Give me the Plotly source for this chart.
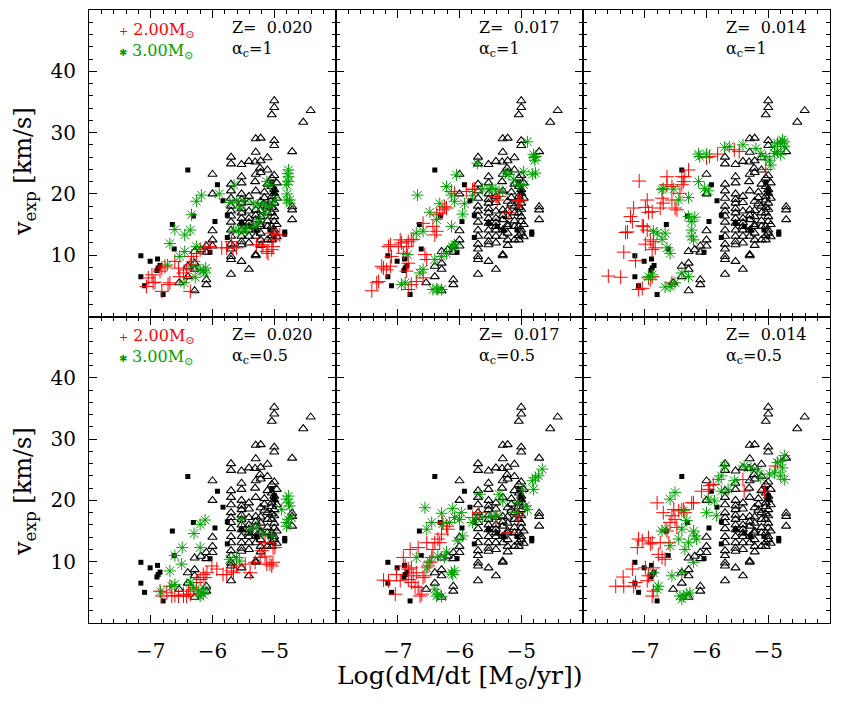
import plotly.graph_objects as go
from plotly.subplots import make_subplots

# ---------------- observed data (same in every panel) ----------------
obs_tri = [(-5.00,35.2),(-5.00,34.1),(-5.04,32.9),(-4.41,33.6),(-4.53,31.7),(-5.30,29.0),(-5.22,29.1),
 (-5.00,28.7),(-5.00,27.9),(-4.71,26.9),(-5.70,26.0),(-5.70,24.9),(-5.30,26.8),(-5.53,24.8),(-5.41,25.3),
 (-5.31,25.2),(-5.22,25.4),(-5.11,25.9),(-5.22,23.5),(-5.23,24.2),(-6.00,23.2),(-5.53,22.8),(-5.53,21.8),
 (-5.31,22.0),(-5.00,23.0),(-5.11,21.6),(-5.04,21.2),(-5.00,20.7),(-5.00,20.1),(-5.04,19.6),(-5.70,20.5),
 (-6.00,20.0),(-5.53,20.0),(-5.53,19.1),(-5.53,18.5),(-5.16,19.4),(-5.22,18.8),(-5.16,18.4),(-4.71,17.9),
 (-4.71,17.4),(-4.71,15.8),(-5.70,18.0),(-5.70,17.2),(-5.70,16.4),(-5.70,15.4),(-5.70,14.1),(-5.70,13.1),
 (-5.70,11.8),(-5.70,11.0),(-5.70,9.8),(-5.70,9.3),(-5.70,6.9),(-5.53,16.9),(-5.53,16.0),(-5.53,15.2),
 (-5.53,14.1),(-5.53,13.1),(-5.53,11.7),(-5.41,17.2),(-5.41,16.0),(-5.41,15.3),(-5.41,14.1),(-5.41,13.1),
 (-5.30,17.4),(-5.30,15.8),(-5.30,14.1),(-5.30,13.1),(-5.30,10.1),(-5.22,16.3),(-5.22,14.7),(-5.22,13.6),
 (-5.22,12.5),(-5.11,16.9),(-5.11,14.7),(-5.11,12.5),(-5.04,19.0),(-5.04,16.9),(-5.04,14.7),(-5.04,12.5),
 (-5.00,18.5),(-5.00,16.3),(-5.00,14.1),(-5.00,13.6),(-6.00,14.0),(-6.00,12.5),(-6.00,11.5),(-6.10,11.5),
 (-6.10,10.5),(-6.10,6.0),(-6.10,5.2),(-6.19,10.9),(-6.29,10.6),(-6.29,8.7),(-6.29,7.7),(-6.29,4.2),
 (-6.40,8.2),(-6.40,6.5),(-6.54,5.5),(-5.53,9.0),(-5.41,7.7),(-5.30,9.9),(-5.53,12.2),(-5.41,12.0),
 (-5.22,11.6),(-5.04,17.8),(-5.00,17.5),(-5.00,15.5),(-4.96,15.0),(-5.11,18.0),(-5.22,17.3),(-5.30,16.5),
 (-5.41,18.6),(-5.53,17.6),(-5.41,19.6),(-5.30,20.5),(-5.16,20.3),(-5.04,22.6),(-5.11,23.9),(-5.30,23.2),
 (-4.96,21.8),(-4.96,19.3),(-5.04,13.2),(-4.96,13.0),(-5.70,19.3),(-5.70,21.6),(-5.22,15.0),(-5.11,15.6),
 (-5.41,14.7)]

obs_sq = [(-6.40,23.9),(-5.92,21.5),(-5.83,18.9),(-5.76,16.5),(-6.31,16.4),(-5.96,15.5),(-6.65,15.0),
 (-6.62,11.0),(-5.76,12.9),(-7.16,9.9),(-7.01,9.0),(-6.89,9.4),(-6.85,8.3),(-6.88,7.9),(-6.90,7.5),
 (-7.16,6.5),(-7.10,5.0),(-6.80,3.6),(-5.00,20.8),(-5.00,20.2),(-4.83,13.8),(-4.83,13.4),(-5.04,21.9),
 (-5.39,14.7),(-5.29,14.1),(-5.07,14.1),(-6.04,10.5),(-5.53,15.2)]

# ---------------- models: 2 Msun (red +) and 3 Msun (green *) ----------------
m2_z020_a1 = [(-7.04,6.3),(-6.98,6.8),(-6.93,5.6),(-7.07,4.9),(-6.96,5.5),(-6.85,7.4),(-6.82,7.9),(-6.77,8.2),
 (-6.69,5.5),(-6.72,5.2),(-6.82,4.1),(-6.61,9.0),(-6.55,7.9),(-6.53,6.5),(-6.47,7.1),(-6.42,7.6),(-6.36,8.4),
 (-6.34,9.8),(-6.26,10.3),(-6.36,4.1),(-6.20,10.9),(-6.12,11.2),(-6.04,11.4),(-5.85,11.2),(-5.77,11.2),
 (-5.69,12.2),(-5.67,11.2),(-5.61,11.2),(-5.29,11.7),(-5.20,11.4),(-5.12,10.6),(-5.04,10.9),(-5.02,11.4),
 (-5.10,10.3),(-5.02,12.5),(-4.96,13.3),(-4.91,13.3),(-5.04,13.6),(-5.18,11.7),(-6.42,6.5),(-6.31,9.0)]
m3_z020_a1 = [(-6.18,19.8),(-6.26,18.8),(-6.34,16.6),(-5.89,20.0),(-5.65,21.4),(-6.61,14.2),(-6.45,13.3),
 (-6.36,14.1),(-6.69,11.9),(-6.73,8.4),(-6.53,9.8),(-6.45,10.6),(-6.26,11.4),(-6.28,6.4),(-6.46,5.5),
 (-6.20,7.6),(-6.15,7.5),(-6.12,7.1),(-6.11,7.9),(-6.31,8.2),(-5.72,18.6),(-5.61,18.8),(-5.50,18.8),
 (-5.34,18.5),(-5.26,18.2),(-5.15,18.2),(-5.07,17.9),(-4.99,19.0),(-5.66,14.1),(-5.58,14.1),(-5.50,13.9),
 (-5.45,14.3),(-5.34,14.7),(-5.29,15.2),(-5.23,15.8),(-5.15,16.9),(-5.07,21.5),(-5.12,22.0),(-4.77,23.9),
 (-4.77,22.8),(-4.77,22.0),(-4.80,21.5),(-4.75,19.0),(-4.80,19.0),(-4.75,18.5),(-5.56,17.7),(-4.78,23.3),
 (-4.79,20.0)]

m2_z017_a1 = [(-7.42,4.2),(-7.34,5.5),(-7.31,5.7),(-7.26,8.2),(-7.23,7.9),(-7.18,7.6),(-7.12,8.2),(-7.10,9.8),
 (-7.15,11.4),(-7.12,11.7),(-6.99,11.4),(-6.96,12.5),(-6.94,12.0),(-6.86,11.4),(-6.83,12.2),(-6.78,12.5),
 (-6.75,12.6),(-6.59,15.2),(-6.43,14.7),(-6.40,13.3),(-6.37,13.9),(-6.37,16.6),(-6.32,16.9),(-6.27,17.4),
 (-6.24,17.9),(-6.21,17.7),(-6.13,20.4),(-6.08,20.1),(-5.89,20.4),(-5.79,20.7),(-5.76,20.8),(-5.41,19.6),
 (-5.39,19.0),(-5.36,19.6),(-5.06,19.0),(-5.04,18.8),(-5.01,19.0),(-5.20,16.9),(-6.56,10.1),(-6.53,9.3),
 (-6.59,6.3),(-6.70,5.7),(-6.78,5.2),(-6.83,4.4),(-6.86,7.4),(-6.91,10.3),(-6.83,8.7)]
m3_z017_a1 = [(-6.68,19.8),(-6.48,17.0),(-6.37,15.8),(-6.32,18.4),(-6.21,21.2),(-6.13,19.8),(-6.05,23.1),
 (-6.08,18.8),(-5.92,18.4),(-5.95,16.7),(-6.13,14.7),(-6.59,13.9),(-6.70,13.6),(-6.84,10.1),(-6.64,7.1),
 (-6.59,7.7),(-6.88,5.5),(-6.94,5.2),(-6.43,4.4),(-6.37,4.5),(-6.35,4.4),(-6.29,4.4),(-6.40,9.3),(-6.29,9.8),
 (-6.11,11.4),(-6.08,11.7),(-6.21,10.3),(-5.71,25.0),(-5.79,19.7),(-5.63,20.8),(-5.52,20.8),(-5.47,20.9),
 (-5.41,20.7),(-5.30,20.4),(-5.25,23.4),(-5.20,23.2),(-5.12,22.3),(-5.04,21.5),(-4.96,21.5),(-4.90,28.5),
 (-4.80,26.4),(-4.77,26.1),(-4.78,25.5),(-4.77,23.4),(-4.96,23.6),(-4.79,25.9),(-4.82,23.2)]

m2_z014_a1 = [(-7.59,6.6),(-7.39,6.4),(-7.34,10.5),(-7.31,13.7),(-7.28,13.8),(-7.23,16.3),(-7.20,15.5),
 (-7.18,17.7),(-7.15,9.1),(-7.09,22.1),(-7.04,14.8),(-7.02,14.7),(-6.99,11.8),(-6.96,19.0),(-6.99,17.8),
 (-6.94,17.0),(-6.96,14.1),(-6.91,12.5),(-6.88,17.1),(-6.88,10.9),(-6.86,12.2),(-6.83,11.2),(-6.75,17.7),
 (-6.72,19.3),(-6.70,18.5),(-6.64,21.5),(-6.64,22.8),(-6.56,21.2),(-6.56,19.0),(-6.51,17.7),(-6.48,17.4),
 (-6.43,20.1),(-6.40,21.5),(-6.40,22.8),(-6.37,22.0),(-6.35,22.8),(-6.29,23.9),(-6.00,25.9),(-5.95,26.1),
 (-5.82,26.5),(-5.55,27.2),(-5.47,26.9),(-5.04,24.0),(-6.94,6.3),(-6.91,6.0),(-7.10,4.4),(-7.04,4.6),
 (-6.88,6.5),(-6.56,5.5)]
m3_z014_a1 = [(-6.72,20.7),(-6.70,20.9),(-6.53,20.8),(-6.45,19.0),(-6.29,19.4),(-6.13,22.0),(-6.03,20.9),
 (-5.97,20.5),(-6.13,26.5),(-6.11,26.1),(-6.00,26.5),(-5.71,27.6),(-5.63,27.7),(-5.41,28.0),(-5.20,27.4),
 (-5.12,26.6),(-5.04,26.1),(-4.98,25.5),(-4.96,24.7),(-4.90,27.7),(-4.85,28.3),(-4.80,28.3),(-4.77,28.8),
 (-4.74,28.5),(-4.90,26.6),(-4.85,26.9),(-4.80,26.4),(-4.74,27.7),(-6.86,13.9),(-6.80,13.6),(-6.72,12.6),
 (-6.67,13.6),(-6.64,11.2),(-6.59,10.3),(-6.29,16.3),(-6.24,15.5),(-6.19,16.2),(-6.24,14.1),(-6.24,13.1),
 (-6.21,12.5),(-6.40,7.1),(-6.29,6.5),(-6.67,4.8),(-6.59,4.9),(-6.51,5.5),(-6.94,6.5),(-6.88,6.8)]

m2_z020_a05 = [(-6.85,5.2),(-6.82,4.4),(-6.74,4.9),(-6.69,6.0),(-6.66,4.4),(-6.61,4.5),(-6.55,4.4),(-6.47,4.4),
 (-6.42,4.4),(-6.36,4.7),(-6.31,5.5),(-6.26,6.6),(-6.20,7.1),(-6.15,7.9),(-6.12,7.4),(-6.09,8.2),(-6.01,9.3),
 (-5.93,8.8),(-5.83,7.9),(-5.77,7.9),(-5.69,8.5),(-5.66,8.2),(-5.61,9.3),(-5.47,9.6),(-5.39,8.2),(-5.31,9.9),
 (-5.23,10.7),(-5.20,11.8),(-5.15,10.9),(-5.12,9.6),(-5.07,9.6),(-5.04,9.3),(-5.02,9.9),(-5.02,12.3),
 (-4.99,12.3),(-5.15,13.1),(-6.39,5.2),(-6.47,4.7)]
m3_z020_a05 = [(-6.12,16.8),(-6.20,16.1),(-6.30,14.6),(-6.49,12.3),(-6.61,11.0),(-6.69,8.5),(-6.50,9.6),
 (-6.20,12.3),(-6.84,5.1),(-6.66,6.0),(-6.61,6.3),(-6.36,6.6),(-6.31,5.8),(-6.23,5.2),(-6.18,4.9),(-6.15,4.7),
 (-6.12,5.5),(-6.20,4.4),(-5.72,10.4),(-5.61,10.7),(-5.56,10.1),(-5.53,16.9),(-5.39,15.3),(-5.29,15.6),
 (-5.18,14.6),(-5.04,14.2),(-4.88,18.5),(-4.80,20.2),(-4.77,19.6),(-4.75,19.1),(-4.80,16.4),(-4.77,16.9),
 (-4.72,17.2),(-4.80,15.8),(-4.77,20.7)]

m2_z017_a05 = [(-7.23,7.0),(-7.15,6.9),(-7.04,4.7),(-6.96,6.9),(-7.02,7.9),(-6.91,10.7),(-6.88,9.3),(-6.83,8.8),
 (-6.80,12.0),(-6.78,9.0),(-6.75,7.7),(-6.78,6.6),(-6.72,6.0),(-6.70,8.2),(-6.67,12.3),(-6.64,4.4),(-6.61,4.7),
 (-6.59,7.4),(-6.56,7.7),(-6.53,13.1),(-6.51,9.3),(-6.48,9.9),(-6.45,10.7),(-6.43,12.0),(-6.40,13.1),
 (-6.35,13.7),(-6.32,13.1),(-6.29,14.5),(-6.27,16.4),(-6.21,15.8),(-6.19,15.3),(-5.79,17.2),(-5.68,18.0),
 (-5.41,17.2),(-5.06,18.0),(-5.04,17.5),(-5.22,14.7),(-6.83,7.1),(-6.67,5.8)]
m3_z017_a05 = [(-6.56,18.8),(-6.53,15.3),(-6.45,16.4),(-6.29,17.9),(-6.27,16.2),(-6.16,16.4),(-6.11,18.7),
 (-6.08,17.2),(-6.00,16.9),(-5.97,18.0),(-5.95,14.2),(-6.03,13.4),(-6.21,11.6),(-6.24,10.7),(-6.35,10.9),
 (-6.48,10.1),(-6.53,9.0),(-6.70,10.7),(-6.37,4.4),(-6.35,4.7),(-6.29,4.3),(-6.40,5.5),(-6.13,8.2),(-6.11,7.9),
 (-6.08,8.5),(-5.79,16.4),(-5.73,17.2),(-5.63,17.2),(-5.49,17.4),(-5.39,17.5),(-5.67,21.0),(-5.36,21.0),
 (-5.30,19.9),(-4.98,21.8),(-4.93,19.1),(-4.90,18.5),(-4.82,23.2),(-4.77,23.7),(-4.72,24.0),(-4.66,25.1),
 (-4.80,21.8),(-5.09,18.0),(-5.06,19.6)]

m2_z014_a05 = [(-7.47,6.0),(-7.35,7.5),(-7.34,6.0),(-7.20,8.8),(-7.18,6.0),(-7.15,6.6),(-7.12,12.3),(-7.10,13.7),
 (-7.04,13.4),(-6.99,9.0),(-6.96,6.9),(-6.94,13.9),(-6.91,12.9),(-6.88,13.1),(-6.86,5.2),(-6.88,4.4),
 (-6.80,19.6),(-6.78,11.2),(-6.75,13.1),(-6.72,10.7),(-6.70,18.0),(-6.67,10.4),(-6.64,15.0),(-6.59,16.4),
 (-6.56,17.5),(-6.53,18.5),(-6.51,16.9),(-6.48,15.6),(-6.45,18.3),(-6.40,18.5),(-6.37,18.5),(-6.35,18.0),
 (-6.24,19.6),(-6.21,19.6),(-6.08,21.5),(-5.97,21.8),(-5.95,22.4),(-5.89,22.6),(-5.41,23.4),(-5.39,21.5),
 (-5.06,21.5),(-4.88,25.6),(-6.86,9.0),(-6.61,13.1),(-6.94,7.7)]
m3_z014_a05 = [(-6.80,5.5),(-6.86,8.2),(-6.78,6.0),(-6.72,15.0),(-6.67,15.3),(-6.59,12.6),(-6.56,7.7),
 (-6.45,13.7),(-6.40,15.3),(-6.35,12.0),(-6.29,13.1),(-6.21,15.0),(-6.19,14.2),(-6.16,13.7),(-6.21,9.9),
 (-6.40,8.2),(-6.43,4.4),(-6.37,4.4),(-6.32,4.7),(-6.27,4.9),(-6.40,3.9),(-6.59,20.2),(-6.51,21.3),
 (-6.37,18.3),(-6.32,16.7),(-6.00,18.0),(-5.97,20.2),(-5.87,19.9),(-5.84,17.5),(-5.76,21.5),(-5.65,21.8),
 (-5.55,23.2),(-5.81,23.4),(-5.76,24.0),(-5.71,25.6),(-5.39,25.6),(-5.28,25.3),(-5.17,24.8),(-5.12,23.7),
 (-4.98,24.3),(-4.85,26.2),(-4.80,26.4),(-4.74,27.3),(-4.77,25.3),(-4.80,24.0),(-4.74,23.4),(-4.90,24.5)]

metallicity = ["0.020", "0.017", "0.014"]
alpha_c = ["1", "0.5"]
x_ticks = [-7, -6, -5]
y_ticks = [10, 20, 30, 40]
mass_labels = ["2.00", "3.00"]

panels = [
    (1, 1, m2_z020_a1, m3_z020_a1), (1, 2, m2_z017_a1, m3_z017_a1), (1, 3, m2_z014_a1, m3_z014_a1),
    (2, 1, m2_z020_a05, m3_z020_a05), (2, 2, m2_z017_a05, m3_z017_a05), (2, 3, m2_z014_a05, m3_z014_a05),
]

RED = "rgb(255,0,0)"
GREEN = "rgb(0,160,0)"
FONT = "DejaVu Serif"

fig = make_subplots(rows=2, cols=3, horizontal_spacing=0, vertical_spacing=0)

def xs(pts):
    return [p[0] for p in pts]

def ys(pts):
    return [p[1] for p in pts]

for r, c, m2, m3 in panels:
    fig.add_trace(go.Scatter(x=xs(obs_tri), y=ys(obs_tri), mode="markers", showlegend=False,
                             marker=dict(symbol="triangle-up-open", size=8, color="black",
                                         line=dict(color="black", width=1.1))), row=r, col=c)
    fig.add_trace(go.Scatter(x=xs(obs_sq), y=ys(obs_sq), mode="markers", showlegend=False,
                             marker=dict(symbol="square", size=5, color="black", line=dict(width=0))),
                  row=r, col=c)
    fig.add_trace(go.Scatter(x=xs(m2), y=ys(m2), mode="markers", showlegend=False,
                             marker=dict(symbol="cross-thin", size=10, color=RED,
                                         line=dict(color=RED, width=1))), row=r, col=c)
    fig.add_trace(go.Scatter(x=xs(m3), y=ys(m3), mode="markers", showlegend=False,
                             marker=dict(symbol="asterisk", size=10, color=GREEN,
                                         line=dict(color=GREEN, width=1))), row=r, col=c)

axis_common = dict(showline=True, linecolor="black", linewidth=1, mirror="ticks", showgrid=False,
                   zeroline=False, ticks="inside", ticklen=8, tickwidth=1, tickcolor="black",
                   tickfont=dict(family=FONT, size=20, color="black"))
for i in range(1, 7):
    row = 1 if i <= 3 else 2
    col = (i - 1) % 3 + 1
    fig.update_xaxes(range=[-8, -4], tickvals=x_ticks, ticktext=["\u2212" + str(abs(v)) for v in x_ticks],
                     showticklabels=(row == 2), ticklabelstandoff=10,
                     minor=dict(ticks="inside", ticklen=4, dtick=0.2, tick0=-8, tickcolor="black"),
                     row=row, col=col, **axis_common)
    fig.update_yaxes(range=[0, 50], tickvals=y_ticks, showticklabels=(col == 1), ticklabelstandoff=8,
                     minor=dict(ticks="inside", ticklen=4, dtick=2, tick0=0, tickcolor="black"),
                     row=row, col=col, **axis_common)

# panel annotations (one text block per panel, plus the mass key in the left column)
for r in (1, 2):
    for c in (1, 2, 3):
        idx = (r - 1) * 3 + c
        xd = "x domain" if idx == 1 else f"x{idx} domain"
        yd = "y domain" if idx == 1 else f"y{idx} domain"
        fig.add_annotation(xref=xd, yref=yd, x=0.57, y=0.98, xanchor="left", yanchor="top", align="left",
                           text="Z=\u00a0\u00a0" + metallicity[c - 1] + "<br>\u03b1<sub>c</sub>=" + alpha_c[r - 1],
                           showarrow=False, font=dict(family=FONT, size=16, color="black"))
        if c == 1:
            fig.add_annotation(
                xref=xd, yref=yd, x=0.115, y=0.975, xanchor="left", yanchor="top", align="left",
                text=(f"<span style='color:{RED}'><span style='font-size:11px'>+</span> "
                      + mass_labels[0] + "M<sub>\u2299</sub></span><br>"
                      + f"<span style='color:{GREEN}'><span style='font-size:10px'>\u2731</span> "
                      + mass_labels[1] + "M<sub>\u2299</sub></span>"),
                showarrow=False, font=dict(family=FONT, size=16, color=RED))

# y titles
for yc in (0.737, 0.215):
    fig.add_annotation(xref="paper", yref="paper", x=-0.088, y=yc, xanchor="center", yanchor="middle",
                       textangle=-90, text="v<sub>exp</sub> [km/s]", showarrow=False,
                       font=dict(family=FONT, size=24, color="black"))
# x title
fig.add_annotation(xref="paper", yref="paper", x=0.5, y=-0.088, xanchor="center", yanchor="middle",
                   text="Log(dM/dt [M<sub>\u2299</sub>/yr])", showarrow=False,
                   font=dict(family=FONT, size=25, color="black"))

# page body has an 8px default margin, so the figure's margins compensate for it
fig.update_layout(width=850, height=706, margin=dict(l=81, r=28, t=2, b=91),
                  paper_bgcolor="white", plot_bgcolor="white", showlegend=False)

fig.write_html("out.html")
